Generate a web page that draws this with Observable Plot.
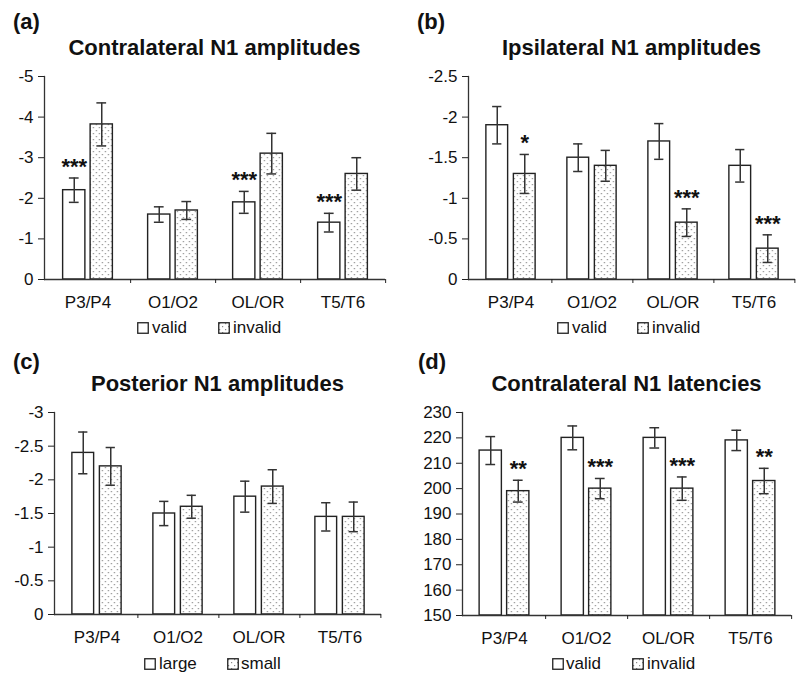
<!DOCTYPE html>
<html><head><meta charset="utf-8">
<script src="https://cdn.jsdelivr.net/npm/d3@7"></script>
<script src="https://cdn.jsdelivr.net/npm/@observablehq/plot@0.6"></script>
<style>
body{margin:0;background:#fff;}
#root{position:relative;width:800px;height:680px;font-family:"Liberation Sans",Arial,sans-serif;color:#111;overflow:hidden}
.panel{position:absolute;width:400px;height:340px}
.panel svg.plt{position:absolute;left:0;top:0}
.tag,.title{position:absolute;font-size:22px;font-weight:bold;line-height:22px;white-space:nowrap}
.title{transform:translateX(-50%)}
.ltxt{position:absolute;font-size:17px;line-height:17px;white-space:nowrap}
.sw{position:absolute}
</style></head><body>
<svg width="0" height="0" style="position:absolute"><defs>
<pattern id="dots" width="6" height="6" patternUnits="userSpaceOnUse">
<rect width="6" height="6" fill="#fff"/>
<rect x="1" y="1" width="1.2" height="1.2" fill="#8a8a8a"/>
<rect x="4" y="4" width="1.2" height="1.2" fill="#8a8a8a"/>
</pattern></defs></svg>
<div id="root"></div>
<script>
const categories = ["P3/P4", "O1/O2", "OL/OR", "T5/T6"];

// (a) Contralateral N1 amplitudes
const contraAmpValid = [-2.2, -1.6, -1.9, -1.4];
const contraAmpValidErr = [0.3, 0.19, 0.27, 0.23];
const contraAmpValidSig = ["***", "", "***", "***"];
const contraAmpInvalid = [-3.82, -1.7, -3.1, -2.6];
const contraAmpInvalidErr = [0.53, 0.22, 0.5, 0.4];
const contraAmpInvalidSig = ["", "", "", ""];
const contraAmpTicks = [0, -1, -2, -3, -4, -5];

// (b) Ipsilateral N1 amplitudes
const ipsiAmpValid = [-1.9, -1.5, -1.7, -1.4];
const ipsiAmpValidErr = [0.23, 0.17, 0.22, 0.2];
const ipsiAmpValidSig = ["", "", "", ""];
const ipsiAmpInvalid = [-1.3, -1.4, -0.7, -0.38];
const ipsiAmpInvalidErr = [0.24, 0.19, 0.17, 0.17];
const ipsiAmpInvalidSig = ["*", "", "***", "***"];
const ipsiAmpTicks = [0, -0.5, -1, -1.5, -2, -2.5];

// (c) Posterior N1 amplitudes
const postAmpLarge = [-2.4, -1.5, -1.75, -1.45];
const postAmpLargeErr = [0.31, 0.18, 0.23, 0.21];
const postAmpLargeSig = ["", "", "", ""];
const postAmpSmall = [-2.2, -1.6, -1.9, -1.45];
const postAmpSmallErr = [0.28, 0.17, 0.25, 0.22];
const postAmpSmallSig = ["", "", "", ""];
const postAmpTicks = [0, -0.5, -1, -1.5, -2, -2.5, -3];

// (d) Contralateral N1 latencies
const contraLatValid = [215, 220, 220, 219];
const contraLatValidErr = [5.5, 4.7, 4, 4];
const contraLatValidSig = ["", "", "", ""];
const contraLatInvalid = [199, 200, 200, 203];
const contraLatInvalidErr = [4.3, 4, 4.6, 5];
const contraLatInvalidSig = ["**", "***", "***", "**"];
const contraLatTicks = [150, 160, 170, 180, 190, 200, 210, 220, 230];

const root = document.getElementById("root");

function rowsOf(values, errs, sigs) {
  return categories.map((c, i) => ({cat: c, v: values[i], e: errs[i], sig: sigs[i]}));
}

function makePanel(cfg) {
  const {left, top, ml, mr, mt, mb, domain, ticks, sign, s1, s2, names, tag, tagX, title, titleTop, legX, legTop} = cfg;
  const div = document.createElement("div");
  div.className = "panel";
  div.style.left = left + "px";
  div.style.top = top + "px";
  root.appendChild(div);

  const W = 400, H = 340;
  const step = (W - ml - mr) / categories.length;
  const bw = 22.5, gap = 5, off = (bw + gap) / 2;
  const ins = (step - bw) / 2, capIns = (step - 10) / 2;
  const base = domain[0];

  function series(rows, fill, dx) {
    return [
      Plot.barY(rows, {x: "cat", y1: base, y2: "v", fill, stroke: "#222", strokeWidth: 1.4, insetLeft: ins, insetRight: ins, dx}),
      Plot.ruleX(rows, {x: "cat", y1: d => d.v - d.e, y2: d => d.v + d.e, dx, stroke: "#333", strokeWidth: 1.5}),
      Plot.tickY(rows, {x: "cat", y: d => d.v - d.e, dx, insetLeft: capIns, insetRight: capIns, stroke: "#333", strokeWidth: 1.5}),
      Plot.tickY(rows, {x: "cat", y: d => d.v + d.e, dx, insetLeft: capIns, insetRight: capIns, stroke: "#333", strokeWidth: 1.5}),
      Plot.text(rows.filter(d => d.sig), {x: "cat", y: d => d.v + sign * d.e, text: "sig", dx, dy: -4, lineAnchor: "bottom", fontSize: 22, fontWeight: "bold", fill: "#111"})
    ];
  }

  const r1 = rowsOf(...s1), r2 = rowsOf(...s2);
  const chart = Plot.plot({
    width: W, height: H,
    marginLeft: ml, marginRight: mr, marginTop: mt, marginBottom: mb,
    style: {fontFamily: "Liberation Sans, Arial, sans-serif", fontSize: "17px", color: "#222", background: "transparent"},
    x: {type: "band", domain: categories, padding: 0, label: null},
    y: {domain: [domain[0], domain[1]], label: null},
    marks: [
      ...series(r1, "#fff", -off),
      ...series(r2, "url(#dots)", off),
      Plot.ruleY([base], {stroke: "#333", strokeWidth: 1.3}),
      Plot.frame({anchor: "left", stroke: "#333", strokeWidth: 1.3}),
      Plot.axisY(ticks, {tickSize: 6, tickPadding: 5, tickFormat: d => String(d), fontSize: 17, fill: "#111", label: null}),
      Plot.axisX({tickSize: 0, tickPadding: 16, fontSize: 17, fill: "#111", label: null}),
      Plot.axisX({tickSize: 4, tickFormat: () => "", dx: step / 2, label: null})
    ]
  });
  chart.classList.add("plt");
  div.appendChild(chart);

  const tg = document.createElement("div");
  tg.className = "tag"; tg.textContent = tag;
  tg.style.left = tagX + "px"; tg.style.top = "11px";
  div.appendChild(tg);

  const tt = document.createElement("div");
  tt.className = "title"; tt.textContent = title;
  tt.style.left = (ml + (W - ml - mr) / 2) + "px"; tt.style.top = titleTop + "px";
  div.appendChild(tt);

  const fills = ["#fff", "url(#dots)"];
  legX.forEach((x, i) => {
    const sw = document.createElementNS("http://www.w3.org/2000/svg", "svg");
    sw.setAttribute("class", "sw"); sw.setAttribute("width", 12); sw.setAttribute("height", 12);
    sw.style.left = x[0] + "px"; sw.style.top = legTop + "px";
    sw.innerHTML = `<rect x="0.75" y="0.75" width="10.5" height="10.5" fill="${fills[i]}" stroke="#222" stroke-width="1.3"/>`;
    div.appendChild(sw);
    const t = document.createElement("div");
    t.className = "ltxt"; t.textContent = names[i];
    t.style.left = (x[1] + 2) + "px"; t.style.top = (legTop - 3.5) + "px";
    div.appendChild(t);
  });
}

makePanel({left: 0, top: 0, ml: 44, mr: 15, mt: 76, mb: 61, domain: [0, -5], ticks: contraAmpTicks, sign: -1,
  s1: [contraAmpValid, contraAmpValidErr, contraAmpValidSig], s2: [contraAmpInvalid, contraAmpInvalidErr, contraAmpInvalidSig],
  names: ["valid", "invalid"], tag: "(a)", tagX: 13, title: "Contralateral N1 amplitudes", titleTop: 37,
  legX: [[137, 150], [218, 231]], legTop: 322});

makePanel({left: 400, top: 0, ml: 68, mr: 5, mt: 76, mb: 61, domain: [0, -2.5], ticks: ipsiAmpTicks, sign: -1,
  s1: [ipsiAmpValid, ipsiAmpValidErr, ipsiAmpValidSig], s2: [ipsiAmpInvalid, ipsiAmpInvalidErr, ipsiAmpInvalidSig],
  names: ["valid", "invalid"], tag: "(b)", tagX: 17, title: "Ipsilateral N1 amplitudes", titleTop: 37,
  legX: [[157, 170], [237, 250]], legTop: 322});

makePanel({left: 0, top: 340, ml: 54, mr: 19, mt: 72, mb: 66, domain: [0, -3], ticks: postAmpTicks, sign: -1,
  s1: [postAmpLarge, postAmpLargeErr, postAmpLargeSig], s2: [postAmpSmall, postAmpSmallErr, postAmpSmallSig],
  names: ["large", "small"], tag: "(c)", tagX: 13, title: "Posterior N1 amplitudes", titleTop: 33,
  legX: [[144, 157], [227, 239]], legTop: 318});

makePanel({left: 400, top: 340, ml: 62, mr: 9, mt: 72, mb: 65, domain: [150, 230], ticks: contraLatTicks, sign: 1,
  s1: [contraLatValid, contraLatValidErr, contraLatValidSig], s2: [contraLatInvalid, contraLatInvalidErr, contraLatInvalidSig],
  names: ["valid", "invalid"], tag: "(d)", tagX: 18, title: "Contralateral N1 latencies", titleTop: 33,
  legX: [[152, 164], [232, 245]], legTop: 318});
</script>
</body></html>
